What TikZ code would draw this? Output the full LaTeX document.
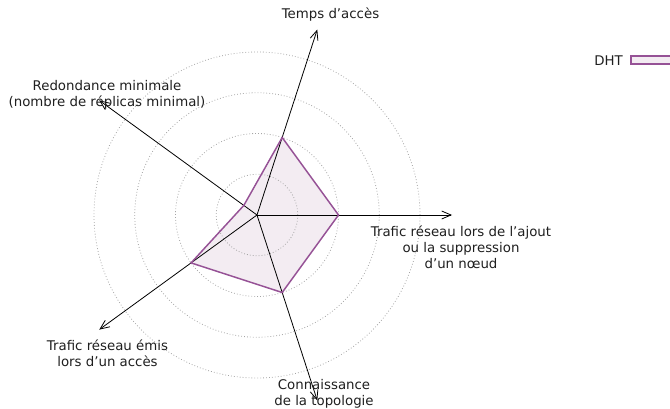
\documentclass[tikz,border=0pt]{standalone}
\usepackage{fontspec}
\setmainfont{DejaVu Sans}
\usetikzlibrary{arrows.meta}
\definecolor{dhtline}{RGB}{150,82,150}
\definecolor{dhtfill}{RGB}{243,236,242}
\definecolor{ringgray}{RGB}{165,165,165}
\begin{document}
\begin{tikzpicture}[x=0.75pt,y=-0.75pt,
  ring/.style={draw=ringgray, line width=0.6pt, dash pattern=on 0.6pt off 1.6pt},
  axisline/.style={draw=black, line width=0.6pt, -{Straight Barb[length=7pt,width=6pt]}},
  seriesfill/.style={fill=dhtfill},
  seriesline/.style={draw=dhtline, line width=1.1pt, line join=miter},
  axlabel/.style={font=\fontsize{10}{12}\selectfont, align=center, inner sep=0pt, text=black!88}]
\clip (0,0) rectangle (670,409);

% radar chart, centre of the star
\begin{scope}[shift={(257,215)}, y=0.75pt]
  \coordinate (O) at (0,0);
  % axis ends
  \coordinate (e1) at (0:195);
  \coordinate (e2) at (72:195);
  \coordinate (e3) at (144:195);
  \coordinate (e4) at (216:195);
  \coordinate (e5) at (288:195);
  % DHT values (one ring = 40.75)
  \coordinate (d1) at (0:81.5);
  \coordinate (d2) at (72:81.5);
  \coordinate (d3) at (144:16.3);
  \coordinate (d4) at (216:81.5);
  \coordinate (d5) at (288:81.5);

  \fill[seriesfill] (d1) -- (d2) -- (d3) -- (d4) -- (d5) -- cycle;
  \foreach \r in {40.75,81.5,122.25,163}
    \draw[ring] (O) circle[radius=\r];
  \foreach \e in {e1,e2,e3,e4,e5}
    \draw[axisline] (O) -- (\e);
  \draw[seriesline] (d1) -- (d2) -- (d3) -- (d4) -- (d5) -- cycle;
\end{scope}

% axis labels
\node[axlabel, anchor=base] (l2) at (330.5,18.3) {Temps d’accès};
\node[axlabel] (l3) at (107,95.2) {Redondance minimale\\(nombre de réplicas minimal)};
\node[axlabel] (l1) at (461,247) {Trafic réseau lors de l’ajout\\ou la suppression\\d’un nœud};
\node[axlabel] (l4) at (107.5,353) {Trafic réseau émis\\lors d’un accès};
\node[axlabel] (l5) at (324,394.2) {Connaissance\\de la topologie};

% legend
\node[axlabel, anchor=east] (key) at (623,60.5) {DHT};
\filldraw[seriesfill, seriesline] (631,56) rectangle (700,64);
\end{tikzpicture}
\end{document}
